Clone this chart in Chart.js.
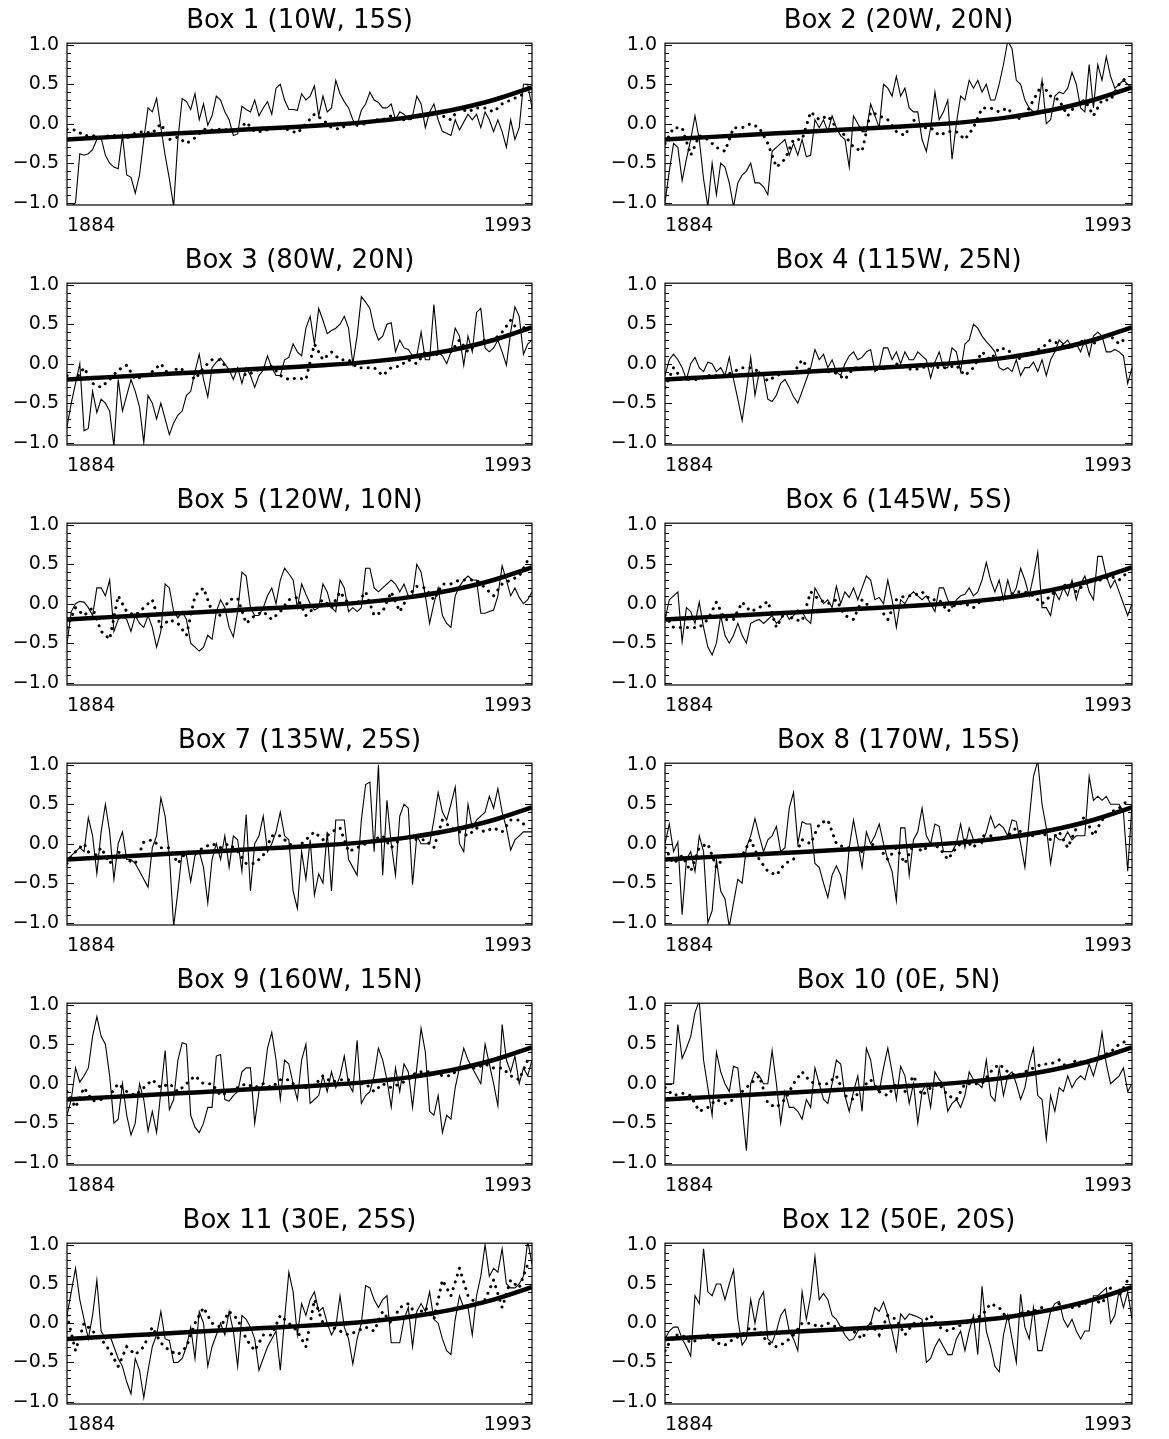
<!DOCTYPE html>
<html>
<head>
<meta charset="utf-8">
<script src="https://cdn.jsdelivr.net/npm/chart.js@4.4.1/dist/chart.umd.min.js"></script>
<style>
  html, body { margin: 0; padding: 0; background: #fff; }
  #page { position: relative; width: 1169px; height: 1439px; }
  #page canvas { position: absolute; }
</style>
</head>
<body>
<div id="page"></div>
<script>
// years on the x axis, solid series are annual, dotted series every 2 years
const firstYear = 1884;
const lastYear = 1993;
const dottedStep = 2;
const yearLabels = ['1884', '1993'];
const yTickValues = [-1.0, -0.5, 0.0, 0.5, 1.0];

const boxTitles = [
  'Box 1 (10W, 15S)', 'Box 2 (20W, 20N)',
  'Box 3 (80W, 20N)', 'Box 4 (115W, 25N)',
  'Box 5 (120W, 10N)', 'Box 6 (145W, 5S)',
  'Box 7 (135W, 25S)', 'Box 8 (170W, 15S)',
  'Box 9 (160W, 15N)', 'Box 10 (0E, 5N)',
  'Box 11 (30E, 25S)', 'Box 12 (50E, 20S)'
];

// thick smooth curve (same in every box)
const trendYears  = [1884, 1894, 1904, 1914, 1924, 1934, 1944, 1954, 1964, 1974, 1984, 1993];
const trendValues = [-0.20, -0.17, -0.14, -0.11, -0.08, -0.05, -0.02, 0.02, 0.08, 0.17, 0.30, 0.46];

// thin solid lines, 1884..1993, one line per decade
const box1Solid = [
  -1.05, -1.05, -1.0, -0.38, -0.4, -0.38, -0.33, -0.2, -0.18, -0.4,
  -0.5, -0.55, -0.57, -0.15, -0.65, -0.68, -0.88, -0.65, -0.2, 0.2,
  0.15, 0.32, -0.05, -0.4, -0.7, -1.05, -0.2, 0.32, 0.28, 0.18,
  0.38, 0.05, 0.25, -0.02, 0.1, 0.35, 0.3, 0.15, 0.05, -0.15,
  -0.13, 0.22, 0.18, 0.15, 0.3, 0.1, 0.2, 0.28, 0.12, 0.45,
  0.5, 0.3, 0.18, 0.18, 0.17, 0.38, 0.3, 0.35, 0.48, 0.1,
  0.35, 0.15, 0.2, 0.55, 0.38, 0.28, 0.2, 0.05, -0.02, 0.17,
  0.25, 0.4, 0.3, 0.27, 0.2, 0.2, 0.25, 0.05, 0.15, 0.12,
  0.05, 0.1, 0.35, 0.25, -0.05, 0.15, 0.25, 0.05, -0.1, -0.12,
  -0.15, 0.05, -0.08, 0.02, 0.12, 0.05, 0.12, -0.05, 0.15, 0.05,
  -0.1, 0.05, -0.1, -0.3, 0.05, -0.2, -0.05, 0.5, 0.5, 0.2
];
const box2Solid = [
  -1.0, -0.6, -0.25, -0.3, -0.72, -0.45, -0.2, 0.1, -0.2, -0.7,
  -1.05, -0.5, -0.9, -0.5, -0.55, -0.75, -1.05, -0.75, -0.65, -0.6,
  -0.5, -0.75, -0.75, -0.8, -0.9, -0.35, -0.3, -0.25, -0.2, -0.4,
  -0.25, -0.4, -0.2, -0.42, -0.4, 0.05, -0.05, 0.05, -0.1, 0.1,
  -0.05, -0.15, -0.2, -0.55, 0.1, 0.0, -0.1, -0.1, 0.25, 0.1,
  -0.05, 0.5, 0.45, 0.35, 0.6, 0.35, 0.45, 0.2, 0.15, 0.15,
  -0.2, -0.35, -0.05, 0.4, 0.05, 0.15, 0.3, -0.45, 0.0, 0.35,
  0.3, 0.55, 0.45, 0.55, 0.4, 0.5, 0.3, 0.3, 0.5, 0.75,
  1.05, 0.95, 0.55, 0.5, 0.3, 0.2, 0.15, 0.15, 0.55, 0.0,
  0.05, 0.35, 0.4, 0.38, 0.45, 0.65, 0.5, 0.2, 0.15, 0.75,
  0.2, 0.75, 0.55, 0.85, 0.6, 0.45, 0.5, 0.55, 0.5, 0.45
];
const box3Solid = [
  -0.8, -0.5, -0.25, 0.0, -0.85, -0.82, -0.35, -0.62, -0.45, -0.5,
  -0.6, -1.05, -0.2, -0.6, -0.4, -0.2, -0.35, -0.55, -1.0, -0.4,
  -0.5, -0.7, -0.5, -0.7, -0.9, -0.75, -0.65, -0.6, -0.4, -0.35,
  -0.1, 0.12, -0.2, -0.42, -0.05, 0.02, 0.07, 0.0, -0.08, -0.2,
  -0.05, -0.25, -0.05, -0.15, -0.3, -0.15, -0.08, 0.1, -0.05, -0.15,
  -0.15, 0.05, 0.08, 0.25, 0.15, 0.1, 0.45, 0.6, 0.25, 0.7,
  0.55, 0.38, 0.42, 0.45, 0.5, 0.6, 0.45, 0.0, 0.35, 0.85,
  0.78, 0.7, 0.45, 0.3, 0.35, 0.5, 0.52, 0.15, 0.3, 0.2,
  0.18, 0.1, 0.1, 0.4, 0.05, 0.05, 0.75, 0.15, 0.1, 0.0,
  0.15, 0.45, 0.35, -0.02, 0.35, 0.15, 0.65, 0.7, 0.2, 0.15,
  0.2, 0.3, 0.15, -0.02, 0.4, 0.72, 0.6, 0.12, 0.25, 0.3
];
const box4Solid = [
  -0.15, 0.05, 0.12, 0.05, -0.05, -0.2, 0.0, 0.08, -0.05, -0.1,
  0.02, 0.0, -0.1, -0.05, -0.15, 0.08, -0.2, -0.45, -0.72, -0.35,
  0.08, -0.4, -0.1, -0.15, -0.45, -0.48, -0.4, -0.25, -0.2, -0.3,
  -0.42, -0.5, -0.35, -0.2, -0.05, 0.18, 0.05, 0.12, -0.05, 0.05,
  -0.1, -0.15, 0.0, 0.1, 0.15, 0.05, 0.08, 0.15, 0.18, -0.1,
  -0.05, 0.2, 0.2, 0.05, 0.15, 0.0, 0.15, 0.05, 0.05, 0.15,
  0.1, 0.05, -0.18, 0.02, 0.15, -0.05, -0.05, 0.2, 0.15, -0.1,
  0.25, 0.3, 0.5, 0.45, 0.35, 0.28, 0.22, 0.15, -0.05, -0.08,
  -0.05, -0.1, 0.05, -0.15, -0.05, -0.05, 0.02, -0.1, 0.05, -0.15,
  0.05, 0.15, 0.3, 0.25, 0.3, 0.2, 0.25, 0.15, 0.3, 0.1,
  0.35, 0.4, 0.35, 0.15, 0.15, 0.18, 0.15, 0.1, -0.25, -0.05
];
const box5Solid = [
  -0.5, -0.1, 0.0, 0.03, 0.02, -0.05, -0.15, 0.2, 0.2, 0.1,
  0.3, -0.35, -0.2, -0.15, -0.2, -0.35, -0.15, -0.25, -0.3, -0.15,
  -0.3, -0.55, -0.35, 0.25, 0.2, -0.1, -0.18, -0.1, -0.2, -0.5,
  -0.55, -0.6, -0.55, -0.4, -0.45, -0.1, 0.05, -0.05, -0.3, -0.42,
  -0.1, 0.4, 0.35, -0.05, -0.15, -0.15, -0.05, 0.1, 0.2, 0.0,
  0.3, 0.45, 0.38, 0.3, -0.05, 0.25, 0.12, 0.0, -0.08, -0.05,
  0.25, 0.15, -0.05, -0.1, 0.3, 0.2, -0.1, -0.05, -0.1, -0.05,
  0.45, 0.45, 0.2, 0.15, 0.2, 0.25, 0.3, 0.25, 0.15, 0.25,
  0.1, 0.1, 0.5, 0.4, 0.1, -0.25, 0.0, 0.2, -0.15, -0.25,
  -0.3, 0.1, 0.22, 0.3, 0.35, 0.3, 0.3, -0.12, -0.12, -0.1,
  -0.08, 0.1, 0.48, 0.3, 0.1, 0.2, 0.08, 0.0, 0.05, 0.15
];
const box6Solid = [
  -0.2, 0.05, 0.1, 0.15, -0.48, -0.05, -0.1, -0.25, 0.02, -0.3,
  -0.55, -0.65, -0.5, -0.15, -0.4, -0.5, -0.4, -0.25, -0.4, -0.5,
  -0.25, -0.22, -0.2, -0.25, -0.2, -0.15, -0.25, -0.2, -0.1, -0.2,
  -0.15, -0.08, -0.1, -0.2, -0.25, 0.2, 0.1, 0.0, 0.05, -0.05,
  0.22, 0.0, 0.15, 0.08, 0.2, 0.05, 0.2, 0.35, 0.3, 0.05,
  0.08, 0.0, 0.3, 0.05, -0.3, 0.05, 0.0, 0.1, 0.15, 0.1,
  0.05, 0.1, 0.0, -0.1, 0.2, 0.2, 0.05, -0.05, 0.05, 0.1,
  0.12, 0.2, 0.1, 0.15, 0.3, 0.52, 0.3, 0.15, 0.3, 0.05,
  0.3, 0.1, 0.2, 0.45, 0.3, 0.1, 0.35, 0.65, -0.05, -0.05,
  -0.15, 0.15, 0.05, 0.2, 0.1, 0.3, 0.05, 0.25, 0.35, 0.15,
  0.05, 0.6, 0.6, 0.35, 0.2, 0.3, 0.15, 0.0, -0.15, 0.0
];
const box7Solid = [
  -0.2, -0.15, -0.1, -0.05, -0.1, 0.33, 0.1, -0.38, 0.15, 0.5,
  0.15, -0.45, 0.0, 0.15, -0.2, -0.2, -0.25, -0.35, -0.45, -0.55,
  -0.05, 0.1, 0.58, 0.35, -0.15, -1.05, -0.6, -0.1, -0.15, -0.48,
  -0.15, -0.1, -0.3, -0.75, -0.2, 0.0, -0.2, 0.1, -0.3, 0.1,
  0.05, -0.35, 0.37, -0.6, 0.0, 0.1, 0.35, -0.1, 0.0, 0.15,
  0.4, 0.1, 0.05, -0.6, -0.82, -0.1, -0.45, 0.05, -0.65, -0.38,
  -0.5, 0.15, -0.6, 0.3, 0.3, 0.3, -0.2, -0.3, -0.4, 0.3,
  0.75, 0.78, -0.1, 1.0, -0.4, 0.55, 0.0, -0.4, 0.35, 0.5,
  0.45, -0.52, 0.1, 0.0, 0.0, 0.0, 0.3, 0.65, 0.4, 0.3,
  0.5, 0.72, 0.0, -0.1, 0.5, 0.2, 0.3, 0.35, 0.4, 0.6,
  0.45, 0.7, 0.4, 0.2, -0.08, 0.05, 0.1, 0.15, 0.15, 0.15
];
const box8Solid = [
  0.0, 0.25, -0.1, 0.02, -0.9, -0.2, -0.1, -0.35, 0.1, -0.1,
  -1.0, -0.85, -0.2, -0.6, -0.7, -1.05, -0.75, -0.45, -0.5, -0.05,
  0.1, 0.32, 0.1, -0.1, 0.05, 0.1, 0.22, -0.1, -0.05, 0.45,
  0.65, 0.0, 0.28, 0.25, 0.25, -0.25, -0.3, -0.5, -0.68, -0.4,
  -0.28, -0.4, -0.68, -0.05, 0.3, 0.0, -0.3, 0.15, 0.0, 0.1,
  0.25, 0.0, -0.2, -0.35, -0.72, 0.2, 0.2, -0.4, 0.05, 0.15,
  0.45, 0.1, 0.0, 0.25, 0.22, -0.1, -0.1, -0.1, 0.0, 0.25,
  -0.05, 0.2, 0.05, 0.05, 0.0, 0.15, 0.35, 0.2, 0.25, 0.2,
  0.1, 0.3, 0.28, 0.0, -0.3, 0.3, 0.85, 1.05, 0.5, 0.2,
  -0.25, 0.1, 0.05, 0.05, 0.15, 0.05, 0.1, 0.1, 0.1, 0.85,
  0.55, 0.6, 0.55, 0.6, 0.5, 0.5, 0.5, 0.4, -0.35, 0.5
];
const box9Solid = [
  -0.4, -0.2, 0.2, 0.02, 0.1, 0.2, 0.6, 0.85, 0.6, 0.5,
  0.1, -0.5, -0.45, 0.0, -0.4, -0.65, -0.5, 0.0, -0.2, -0.6,
  -0.35, -0.62, -0.1, 0.42, -0.33, -0.2, 0.3, 0.52, 0.5, -0.4,
  -0.55, -0.62, -0.5, -0.3, -0.3, 0.35, 0.37, -0.2, -0.22, -0.15,
  -0.1, 0.15, 0.2, 0.2, -0.5, -0.1, 0.0, 0.45, 0.65, 0.3,
  -0.2, 0.3, 0.25, 0.0, -0.2, 0.3, 0.5, -0.25, -0.2, -0.15,
  0.1, -0.1, 0.15, -0.05, 0.1, 0.35, 0.0, -0.1, 0.55, -0.25,
  -0.15, -0.1, 0.1, 0.45, 0.3, 0.05, -0.3, 0.2, -0.1, 0.25,
  0.15, -0.3, 0.2, 0.7, 0.4, -0.35, -0.4, -0.15, -0.62, -0.4,
  -0.45, -0.05, 0.2, 0.45, 0.3, 0.2, 0.1, 0.0, 0.5, 0.25,
  0.0, -0.28, 0.75, 0.3, 0.15, 0.35, 0.0, 0.2, 0.1, 0.3
];
const box10Solid = [
  0.0, 0.0, 0.0, 0.75, 0.32, 0.45, 0.6, 0.9, 1.05, 0.3,
  -0.05, -0.4, 0.4, 0.15, 0.0, -0.1, 0.22, 0.2, -0.3, -0.85,
  0.0, 0.15, 0.1, 0.0, 0.0, 0.42, 0.0, -0.5, -0.1, -0.3,
  -0.3, -0.35, -0.45, -0.2, -0.3, 0.2, 0.0, -0.2, -0.25, 0.0,
  0.3, 0.25, -0.15, -0.35, -0.1, 0.1, -0.35, 0.45, 0.3, -0.05,
  -0.1, 0.2, 0.45, 0.15, -0.2, 0.22, 0.1, -0.25, 0.0, -0.5,
  -0.1, 0.0, -0.3, 0.15, 0.05, 0.0, -0.35, -0.25, -0.2, -0.3,
  -0.15, 0.15, 0.05, 0.0, -0.05, 0.3, -0.15, -0.22, 0.2, -0.15,
  0.1, 0.15, 0.0, -0.2, -0.05, 0.25, 0.45, -0.15, -0.2, -0.7,
  -0.15, -0.35, -0.05, -0.1, 0.1, -0.05, 0.05, 0.1, 0.05, 0.25,
  0.1, 0.3, 0.65, 0.25, 0.0, 0.05, 0.1, 0.2, -0.1, 0.0
];
const box11Solid = [
  0.1, 0.4, 0.7, 0.3, 0.05, -0.2, 0.1, 0.55, -0.1, -0.2,
  -0.15, -0.3, -0.45, -0.55, -0.75, -0.9, -0.45, -0.6, -0.95, -0.6,
  -0.3, -0.15, 0.15, -0.2, -0.22, -0.5, -0.5, -0.45, -0.3, -0.05,
  -0.45, 0.15, 0.0, -0.55, -0.3, -0.15, 0.0, -0.15, 0.15, -0.1,
  -0.55, 0.1, 0.05, -0.05, -0.2, -0.6, -0.45, -0.3, -0.2, -0.1,
  -0.6, 0.05, 0.65, 0.4, -0.15, 0.25, 0.1, 0.3, 0.4, 0.15,
  0.2, 0.0, -0.15, -0.05, 0.35, -0.05, -0.2, -0.52, -0.2, 0.0,
  0.48, 0.45, 0.3, 0.2, 0.3, 0.35, -0.25, -0.25, -0.25, 0.05,
  0.2, -0.3, 0.15, 0.25, 0.15, 0.4, 0.05, 0.0, -0.2, -0.35,
  -0.4, 0.05, 0.35, 0.2, 0.2, -0.15, 0.35, 0.6, 1.0, 0.6,
  0.7, 0.65, 0.95, 0.5, 0.45, 0.45, 0.5, 0.6, 1.05, 0.75
];
const box12Solid = [
  -0.2, -0.1, -0.05, -0.05, -0.2, -0.3, -0.42, 0.35, 0.25, 0.95,
  0.4, 0.35, 0.5, 0.5, 0.3, 0.5, 0.68, 0.05, -0.28, -0.2,
  0.3, 0.0, 0.3, 0.4, -0.2, -0.25, -0.1, 0.1, 0.18, -0.1,
  -0.2, -0.35, 0.4, 0.05, 0.35, 0.85, 0.3, 0.38, 0.3, 0.1,
  0.05, -0.05, -0.15, -0.22, -0.2, -0.1, -0.05, -0.05, 0.0, 0.2,
  0.15, 0.27, 0.1, -0.1, -0.35, 0.12, 0.05, 0.12, 0.1, 0.08,
  0.05, -0.5, -0.45, -0.3, -0.2, -0.3, -0.4, -0.4, -0.2, -0.1,
  -0.35, -0.1, 0.1, -0.4, 0.47, -0.1, -0.3, -0.55, -0.62, -0.15,
  0.1, -0.2, -0.5, 0.37, -0.05, -0.2, 0.2, -0.35, -0.35, -0.1,
  0.15, 0.25, 0.28, 0.05, -0.05, 0.05, -0.1, -0.2, -0.1, -0.1,
  0.35, 0.35, 0.4, 0.45, 0.0, 0.1, 0.42, 0.2, 0.4, 0.05
];

// dotted lines, 1884..1992 every 2 years, one line per decade
const box1Dotted = [
  -0.07, -0.08, -0.15, -0.15, -0.18,  -0.15, -0.15, -0.18, -0.12, -0.1,
  -0.12, 0.0, -0.2, -0.17, -0.25,  -0.18, -0.07, -0.08, -0.07, -0.08,
  -0.1, 0.02, -0.1, -0.1, -0.05,  -0.05, -0.08, -0.12, 0.0, 0.12,
  0.05, -0.05, -0.07, 0.0, -0.02,  0.0, 0.05, 0.05, 0.1, 0.05,
  0.05, 0.1, 0.1, 0.15, 0.1,  0.05, 0.2, 0.15, 0.2, 0.2,
  0.15, 0.25, 0.3, 0.35, 0.4
];
const box2Dotted = [
  -0.25, -0.05, -0.05, -0.4, -0.15,  -0.2, -0.3, -0.35, -0.05, -0.05,
  0.0, -0.05, -0.25, -0.55, -0.45,  -0.2, -0.2, 0.15, 0.05, 0.1,
  -0.05, -0.15, -0.3, -0.35, 0.15,  0.1, 0.05, -0.1, -0.15, 0.05,
  -0.05, -0.05, -0.15, -0.1, -0.1,  -0.2, -0.05, 0.2, 0.2, 0.15,
  0.2, 0.05, 0.1, 0.3, 0.5,  0.35, 0.3, 0.1, 0.25, 0.3,
  0.1, 0.3, 0.3, 0.5, 0.6
];
const box3Dotted = [
  -0.15, -0.2, -0.05, -0.25, -0.3,  -0.2, -0.08, -0.02, -0.2, -0.15,
  -0.1, 0.0, -0.15, -0.05, -0.1,  -0.2, -0.05, 0.05, 0.05, -0.1,
  -0.05, -0.15, -0.1, -0.05, -0.03,  -0.15, -0.2, -0.18, -0.2, 0.25,
  0.05, 0.15, 0.05, 0.05, -0.05,  -0.05, -0.05, -0.15, -0.05, -0.03,
  0.05, 0.0, 0.15, 0.1, 0.15,  0.15, 0.3, 0.15, 0.25, 0.3,
  0.3, 0.4, 0.55, 0.4, 0.5
];
const box4Dotted = [
  -0.3, -0.05, -0.2, -0.2, -0.2,  -0.15, -0.15, -0.15, -0.1, -0.05,
  -0.05, -0.1, -0.22, -0.15, -0.12,  -0.12, 0.05, -0.1, -0.08, -0.1,
  -0.12, -0.2, -0.05, -0.05, -0.05,  -0.08, -0.05, 0.0, -0.05, -0.08,
  -0.05, -0.03, -0.05, -0.05, -0.02,  -0.15, -0.05, 0.15, 0.05, 0.2,
  0.18, 0.05, 0.1, 0.15, 0.2,  0.3, 0.25, 0.2, 0.25, 0.3,
  0.25, 0.35, 0.35, 0.25, 0.35
];
const box5Dotted = [
  -0.3, -0.05, -0.15, -0.05, -0.35,  -0.45, 0.1, -0.1, -0.15, -0.05,
  0.05, -0.3, -0.2, -0.25, -0.4,  0.1, 0.2, -0.1, -0.15, 0.05,
  0.07, -0.25, -0.15, -0.1, -0.2,  -0.1, 0.05, 0.08, -0.15, -0.05,
  0.05, -0.05, 0.15, 0.0, 0.0,  0.15, -0.15, -0.1, 0.15, -0.1,
  0.1, 0.22, 0.2, 0.05, 0.25,  0.25, 0.3, 0.3, 0.3, 0.2,
  0.1, 0.25, 0.3, 0.35, 0.55
];
const box6Dotted = [
  -0.15, -0.3, -0.3, -0.3, -0.3,  -0.2, 0.02, -0.2, -0.2, 0.02,
  -0.1, -0.05, 0.03, -0.3, -0.1,  -0.2, -0.22, 0.15, 0.05, 0.0,
  0.05, -0.15, -0.2, 0.05, -0.05,  -0.05, -0.2, 0.05, 0.1, 0.1,
  0.15, 0.05, 0.05, -0.1, 0.0,  0.0, -0.05, 0.05, 0.05, 0.05,
  0.1, 0.15, 0.15, 0.1, 0.0,  0.1, 0.2, 0.25, 0.15, 0.25,
  0.3, 0.3, 0.35, 0.3, 0.4
];
const box7Dotted = [
  -0.25, -0.1, 0.0, -0.2, -0.05,  -0.25, -0.1, -0.2, -0.25, 0.02,
  0.05, -0.05, -0.05, -0.25, -0.1,  -0.12, -0.05, 0.0, -0.05, 0.0,
  -0.1, -0.25, -0.25, -0.15, 0.1,  0.1, 0.0, -0.05, 0.05, 0.15,
  0.05, 0.15, 0.2, -0.1, -0.05,  0.0, 0.05, 0.1, -0.05, 0.05,
  0.1, 0.05, 0.05, -0.05, 0.3,  0.2, 0.15, 0.1, 0.2, 0.15,
  0.2, 0.15, 0.3, 0.3, 0.2
];
const box8Dotted = [
  -0.05, -0.25, -0.15, -0.35, -0.05,  0.0, -0.3, -0.15, -0.15, -0.15,
  0.05, -0.2, -0.35, -0.4, -0.25,  -0.2, 0.05, 0.0, 0.25, 0.3,
  0.0, -0.05, -0.05, -0.1, 0.0,  -0.05, -0.2, -0.05, -0.25, 0.0,
  -0.1, 0.0, -0.05, -0.2, -0.05,  0.05, -0.05, 0.1, 0.1, 0.05,
  0.1, 0.2, 0.1, 0.1, 0.15,  0.05, 0.15, -0.05, 0.2, 0.35,
  0.1, 0.3, 0.4, 0.45, 0.55
];
const box9Dotted = [
  -0.1, -0.3, -0.05, -0.22, -0.2,  -0.15, 0.0, -0.1, -0.15, -0.05,
  0.05, -0.05, 0.0, -0.1, 0.0,  0.1, 0.0, 0.0, -0.15, -0.1,
  -0.05, 0.0, -0.05, 0.0, -0.05,  0.05, 0.05, -0.05, -0.05, -0.02,
  0.1, 0.02, 0.05, 0.05, 0.0,  0.0, -0.1, 0.0, -0.05, 0.0,
  0.05, 0.15, 0.15, 0.15, 0.1,  0.1, 0.2, 0.2, 0.2, 0.25,
  0.2, 0.2, 0.1, 0.05, 0.3
];
const box10Dotted = [
  -0.05, -0.15, -0.12, -0.15, -0.35,  -0.3, -0.2, -0.25, -0.2, -0.1,
  0.0, 0.1, -0.25, -0.3, -0.2,  0.0, 0.15, 0.02, 0.0, 0.0,
  0.1, -0.15, -0.2, -0.05, 0.05,  -0.1, -0.15, 0.0, -0.1, 0.1,
  -0.15, -0.05, 0.0, -0.15, -0.2,  0.0, 0.0, 0.0, 0.15, 0.25,
  0.15, 0.1, 0.15, 0.2, 0.25,  0.25, 0.3, 0.2, 0.3, 0.25,
  0.3, 0.35, 0.4, 0.5, 0.55
];
const box11Dotted = [
  0.1, -0.35, 0.0, -0.1, -0.2,  -0.35, -0.55, -0.3, -0.4, -0.3,
  -0.05, -0.25, -0.35, -0.4, -0.3,  0.0, 0.2, 0.0, -0.05, 0.15,
  0.05, -0.2, -0.35, -0.15, -0.15,  0.1, 0.0, -0.1, -0.3, 0.3,
  0.0, -0.05, -0.1, -0.15, -0.1,  -0.05, -0.1, 0.15, 0.0, 0.2,
  0.25, 0.1, 0.2, 0.05, 0.55,  0.35, 0.7, 0.35, 0.25, 0.3,
  0.55, 0.2, 0.55, 0.45, 0.75
];
const box12Dotted = [
  -0.35, -0.15, -0.15, -0.25, -0.2,  -0.15, -0.25, -0.28, -0.2, -0.15,
  -0.05, -0.1, -0.25, -0.3, -0.25,  -0.15, 0.0, 0.0, -0.05, 0.0,
  -0.05, -0.05, -0.1, -0.2, 0.0,  -0.15, 0.1, 0.05, -0.15, 0.0,
  0.0, 0.1, -0.05, -0.1, -0.05,  0.0, 0.05, 0.1, 0.25, 0.2,
  0.05, 0.1, 0.15, 0.15, 0.2,  0.15, 0.25, 0.2, 0.2, 0.25,
  0.3, 0.25, 0.45, 0.35, 0.55
];

const solidSeries = [box1Solid, box2Solid, box3Solid, box4Solid, box5Solid, box6Solid,
  box7Solid, box8Solid, box9Solid, box10Solid, box11Solid, box12Solid];
const dottedSeries = [box1Dotted, box2Dotted, box3Dotted, box4Dotted, box5Dotted, box6Dotted,
  box7Dotted, box8Dotted, box9Dotted, box10Dotted, box11Dotted, box12Dotted];

const labelFont = { family: 'DejaVu Sans', size: 19 };

// frame around the plot with inward ticks on left and right
const frameTicks = {
  id: 'frameTicks',
  afterDatasetsDraw(chart) {
    const { ctx, chartArea: a, scales: { y } } = chart;
    ctx.save();
    ctx.strokeStyle = '#000';
    ctx.lineWidth = 1.2;
    ctx.strokeRect(a.left, a.top, a.right - a.left, a.bottom - a.top);
    ctx.lineWidth = 1;
    for (let k = -10; k <= 10; k++) {
      const py = Math.round(y.getPixelForValue(k / 10)) + 0.5;
      const len = k % 5 === 0 ? 7 : 4;
      ctx.beginPath();
      ctx.moveTo(a.left, py); ctx.lineTo(a.left + len, py);
      ctx.moveTo(a.right, py); ctx.lineTo(a.right - len, py);
      ctx.stroke();
    }
    ctx.restore();
  }
};

const page = document.getElementById('page');

boxTitles.forEach((title, i) => {
  const col = i % 2;
  const row = Math.floor(i / 2);
  const canvas = document.createElement('canvas');
  const w = col ? 585 : 584;
  const h = row === 5 ? 239 : 240;
  canvas.width = w;
  canvas.height = h;
  canvas.style.left = (col ? 584 : 0) + 'px';
  canvas.style.top = (row * 240) + 'px';
  page.appendChild(canvas);

  const solidPts = solidSeries[i].map((v, k) => ({ x: firstYear + k, y: v }));
  const dottedPts = dottedSeries[i].map((v, k) => ({ x: firstYear + dottedStep * k, y: v }));
  const trendPts = trendValues.map((v, k) => ({ x: trendYears[k], y: v }));

  new Chart(canvas, {
    type: 'line',
    data: {
      datasets: [
        { data: trendPts, borderColor: '#000', borderWidth: 4.5, pointRadius: 0,
          cubicInterpolationMode: 'monotone', order: 0, clip: 0 },
        { data: dottedPts, borderColor: '#000', borderWidth: 3, borderDash: [0.1, 7],
          borderCapStyle: 'round', pointRadius: 0, order: 1, clip: 0 },
        { data: solidPts, borderColor: '#000', borderWidth: 1.1, pointRadius: 0,
          order: 2, clip: 0 }
      ]
    },
    options: {
      responsive: false,
      animation: false,
      events: [],
      layout: { padding: { left: col ? 21 : 7, right: col ? 37 : 52, top: 0, bottom: 0 } },
      plugins: {
        legend: { display: false },
        tooltip: { enabled: false },
        title: {
          display: true, text: title, color: '#000', fullSize: false,
          font: { family: 'DejaVu Sans', size: 26, weight: 'normal' },
          padding: { top: 6, bottom: 6 }
        }
      },
      scales: {
        x: {
          type: 'linear', min: firstYear, max: lastYear,
          grid: { display: false, drawTicks: false },
          border: { display: false },
          afterBuildTicks: s => { s.ticks = yearLabels.map(l => ({ value: Number(l) })); },
          afterFit: s => { s.height = 35; },
          ticks: {
            align: 'inner', autoSkip: false, maxRotation: 0, padding: 10,
            color: '#000', font: labelFont,
            callback: v => String(v)
          }
        },
        y: {
          min: -1.03, max: 1.02,
          grid: { display: false, drawTicks: false },
          border: { display: false },
          afterBuildTicks: s => { s.ticks = yTickValues.map(v => ({ value: v })); },
          afterFit: s => { s.width = 60; },
          ticks: {
            padding: 8, color: '#000', font: labelFont,
            callback: v => (v < 0 ? '\u2212' : '') + Math.abs(v).toFixed(1)
          }
        }
      }
    },
    plugins: [frameTicks]
  });
});
</script>
</body>
</html>
